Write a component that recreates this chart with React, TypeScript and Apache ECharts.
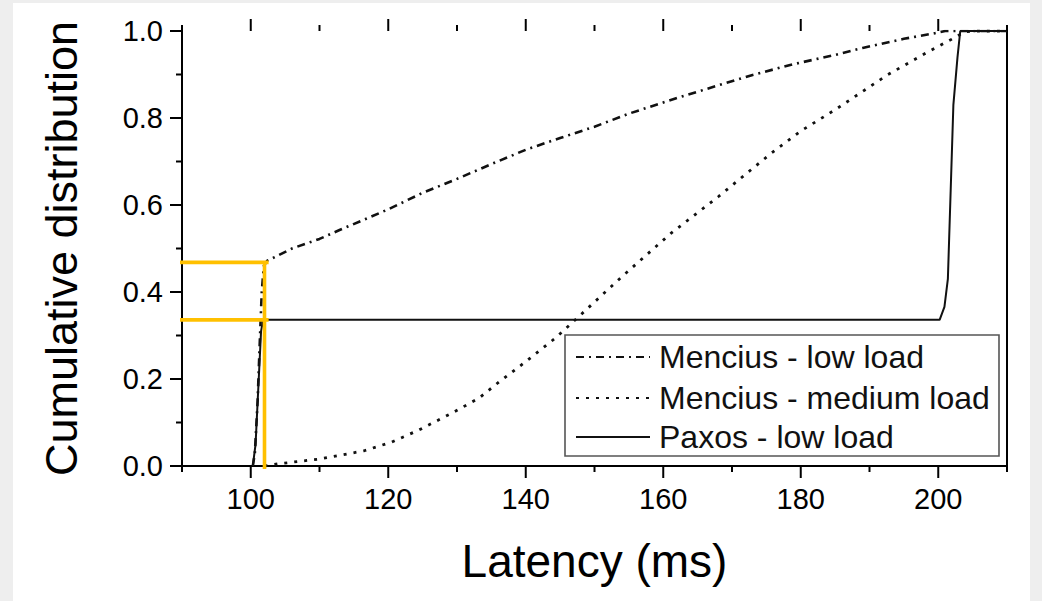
import React, { useEffect, useRef } from "react";
import * as echarts from "echarts";

const xMajorTicks = [100, 120, 140, 160, 180, 200];
const xMinorTicks = [90, 110, 130, 150, 170, 190, 210];
const yMajorTicks = [0, 0.2, 0.4, 0.6, 0.8, 1.0];
const yMinorTicks = [0.1, 0.3, 0.5, 0.7, 0.9];

const seriesNames = ["Mencius - low load", "Mencius - medium load", "Paxos - low load"];

const menciusLow: number[][] = [
  [100.3, 0], [100.6, 0.03], [101.0, 0.15], [101.3, 0.28], [101.6, 0.4], [101.9, 0.46],
  [102.4, 0.472], [103.2, 0.478], [106, 0.5], [110, 0.522], [113, 0.543], [120, 0.59],
  [125, 0.628], [130, 0.66], [135, 0.694], [140, 0.727], [145, 0.754], [150, 0.78],
  [155, 0.81], [162, 0.846], [168, 0.875], [173, 0.899], [179, 0.924], [185, 0.945],
  [189, 0.961], [195, 0.982], [199.5, 0.995], [201, 1.0], [210, 1.0],
];

const menciusMedium: number[][] = [
  [102, 0], [104, 0.005], [110, 0.016], [116.5, 0.035], [120.5, 0.055], [124.5, 0.083],
  [129.3, 0.122], [133.2, 0.156], [136.1, 0.193], [140, 0.24], [144.3, 0.294],
  [147.2, 0.336], [153.9, 0.434], [161.2, 0.536], [168, 0.619], [175.7, 0.719],
  [180, 0.77], [184.9, 0.818], [187.1, 0.841], [192.6, 0.899], [198.4, 0.951],
  [202.3, 0.984], [203.8, 0.998], [205, 1.0], [210, 1.0],
];

const paxosLow: number[][] = [
  [100.3, 0], [100.7, 0.05], [101.1, 0.18], [101.5, 0.31], [101.8, 0.336], [150, 0.336],
  [200.2, 0.336], [200.9, 0.366], [201.4, 0.43], [201.8, 0.63], [202.2, 0.83],
  [202.8, 0.94], [203.2, 1.0], [210, 1.0],
];

const guideUpper: number[][] = [[89.1, 0.468], [102.6, 0.468]];
const guideLower: number[][] = [[89.1, 0.336], [102.6, 0.336]];
const guideVertical: number[][] = [[102.0, 0.468], [102.0, -0.007]];

const FONT = "Liberation Sans, Arial, Helvetica, sans-serif";
const INK = "#111111";
const YELLOW = "#FFC000";
const DASH_DOT = [8, 5, 2, 5];
const DOTTED = [3, 7];
const MAJOR_LEN = 12;
const MINOR_LEN = 6;

export default function App() {
  const ref = useRef<HTMLDivElement>(null);

  useEffect(() => {
    if (!ref.current) return;
    const chart = echarts.init(ref.current, undefined, { renderer: "svg" });

    const baseX = { type: "value" as const, min: 90, max: 210, interval: 10, splitLine: { show: false } };
    const baseY = { type: "value" as const, min: 0, max: 1, interval: 0.1, splitLine: { show: false } };
    const axisLineStyle = { color: "#000", width: 2 };

    const guide = (data: number[][]) => ({
      type: "line" as const,
      data,
      showSymbol: false,
      symbol: "none",
      clip: false,
      z: 6,
      silent: true,
      lineStyle: { color: YELLOW, width: 3.6, cap: "butt" },
    });

    const legendRows = [
      { name: seriesNames[0], y: 357, dash: DASH_DOT },
      { name: seriesNames[1], y: 398, dash: DOTTED },
      { name: seriesNames[2], y: 437, dash: null as number[] | null },
    ];

    const legendGraphics = [
      { type: "rect", z: 10, shape: { x: 565, y: 335, width: 434, height: 121 }, style: { fill: "#fff", stroke: "#555", lineWidth: 1.6 } },
      ...legendRows.map((r) => ({
        type: "line",
        z: 11,
        shape: { x1: 576, y1: r.y, x2: 650, y2: r.y },
        style: { stroke: INK, lineWidth: r.dash ? 2.2 : 1.8, lineDash: r.dash || undefined },
      })),
      ...legendRows.map((r) => ({
        type: "text",
        z: 11,
        x: 659,
        y: r.y,
        style: { text: r.name, fill: "#111", font: `32px ${FONT}`, verticalAlign: "middle", align: "left" },
      })),
    ];

    chart.setOption({
      animation: false,
      backgroundColor: "transparent",
      grid: { left: 182, right: 35, top: 31, bottom: 135 },
      xAxis: [
        {
          ...baseX,
          position: "bottom",
          name: "Latency (ms)",
          nameLocation: "middle",
          nameGap: 72,
          nameTextStyle: { fontSize: 46, color: "#000", fontFamily: FONT },
          axisLine: { show: true, lineStyle: axisLineStyle },
          axisTick: { show: false },
          axisLabel: { show: true, customValues: xMajorTicks, fontSize: 29, color: "#000", fontFamily: FONT, margin: 18 },
        },
        {
          ...baseX,
          position: "top",
          axisLine: { show: true, lineStyle: axisLineStyle },
          axisTick: { show: false },
          axisLabel: { show: false },
        },
      ],
      yAxis: [
        {
          ...baseY,
          position: "left",
          name: "Cumulative distribution",
          nameLocation: "middle",
          nameGap: 98,
          nameTextStyle: { fontSize: 45, color: "#000", fontFamily: FONT },
          axisLine: { show: true, lineStyle: axisLineStyle },
          axisTick: { show: false },
          axisLabel: {
            show: true,
            customValues: yMajorTicks,
            formatter: (v: number) => v.toFixed(1),
            fontSize: 29,
            color: "#000",
            fontFamily: FONT,
            margin: 19,
          },
        },
        {
          ...baseY,
          position: "right",
          axisLine: { show: true, lineStyle: axisLineStyle },
          axisTick: { show: false },
          axisLabel: { show: false },
        },
      ],
      series: [
        { name: seriesNames[2], type: "line", data: paxosLow, showSymbol: false, symbol: "none", z: 3, lineStyle: { color: INK, width: 2 } },
        { name: seriesNames[1], type: "line", data: menciusMedium, showSymbol: false, symbol: "none", z: 3, lineStyle: { color: INK, width: 2.8, type: DOTTED, cap: "butt" } },
        { name: seriesNames[0], type: "line", data: menciusLow, showSymbol: false, symbol: "none", z: 4, lineStyle: { color: INK, width: 2.6, type: DASH_DOT } },
        guide(guideUpper),
        guide(guideLower),
        guide(guideVertical),
      ],
      graphic: legendGraphics,
    });

    // tick marks positioned through the chart's own axis scales
    const toPx = (pt: number[]) => chart.convertToPixel({ xAxisIndex: 0, yAxisIndex: 0 }, pt) as number[];
    const tickGraphics: any[] = [];
    const addX = (v: number, len: number) => {
      const b = toPx([v, 0]);
      const t = toPx([v, 1]);
      tickGraphics.push({ type: "rect", z: 100, shape: { x: b[0] - 1, y: b[1], width: 2, height: len }, style: { fill: "#000" } });
      tickGraphics.push({ type: "rect", z: 100, shape: { x: t[0] - 1, y: t[1] - len, width: 2, height: len }, style: { fill: "#000" } });
    };
    const addY = (v: number, len: number) => {
      const l = toPx([90, v]);
      tickGraphics.push({ type: "rect", z: 100, shape: { x: l[0] - len, y: l[1] - 1, width: len, height: 2 }, style: { fill: "#000" } });
    };
    xMajorTicks.forEach((v) => addX(v, MAJOR_LEN));
    xMinorTicks.forEach((v) => addX(v, MINOR_LEN));
    yMajorTicks.forEach((v) => addY(v, MAJOR_LEN));
    yMinorTicks.forEach((v) => addY(v, MINOR_LEN));

    chart.setOption({ graphic: [...legendGraphics, ...tickGraphics] }, { replaceMerge: ["graphic"] });

    return () => chart.dispose();
  }, []);

  return (
    <div style={{ position: "fixed", left: 0, top: 0, width: 1042, height: 601, background: "#eeeeee" }}>
      <div style={{ position: "absolute", left: 13, top: 3, width: 1017, height: 598, background: "#ffffff" }} />
      <div ref={ref} style={{ position: "absolute", left: 0, top: 0, width: 1042, height: 601 }} />
    </div>
  );
}
